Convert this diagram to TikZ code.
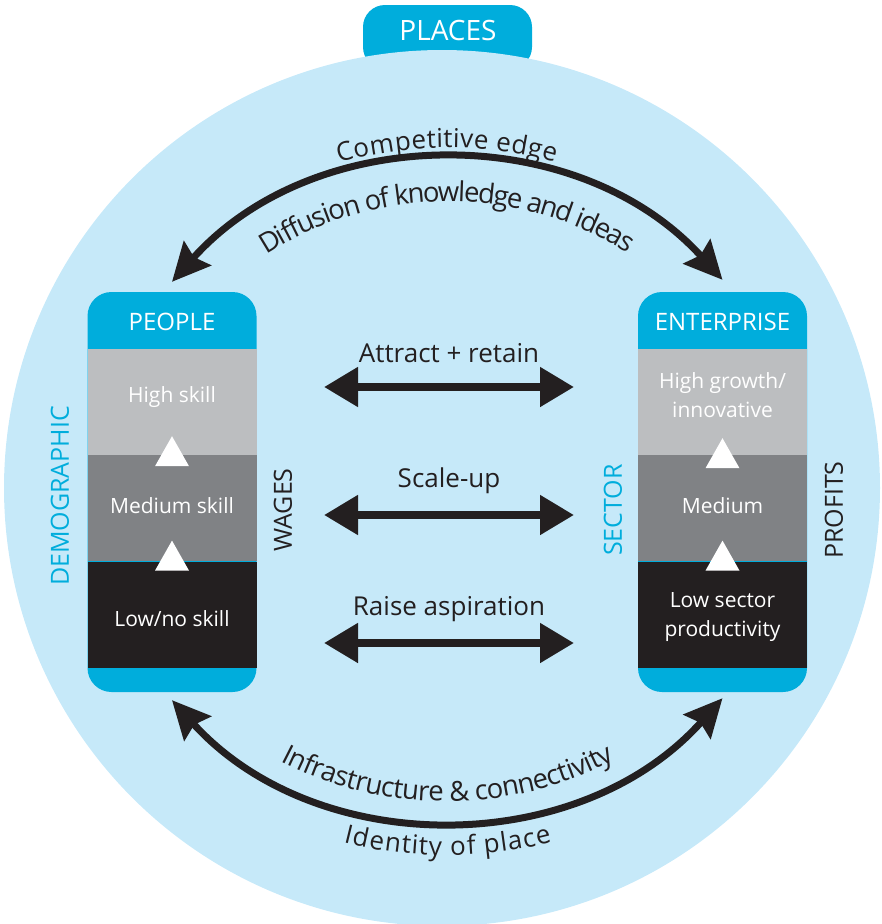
\documentclass[tikz,border=0pt]{standalone}
\usepackage{fontspec}
\setmainfont{Open Sans}
\definecolor{placecyan}{HTML}{00ADDC}
\definecolor{placebg}{HTML}{C6E9F9}
\definecolor{tierhigh}{HTML}{BCBEC0}
\definecolor{tiermid}{HTML}{808285}
\definecolor{tierlow}{HTML}{231F20}
\definecolor{inkdark}{HTML}{231F20}
\usetikzlibrary{arrows.meta, positioning, decorations.text, calc}
\newcommand{\arcfont}{\fontsize{26}{30}\selectfont\color{inkdark}}
\newcommand{\arcfontlg}{\fontsize{27.5}{30}\selectfont\color{inkdark}}

\begin{document}
\begin{tikzpicture}[
        x=1pt, y=-1pt,
        colbox/.style={fill=placecyan, rounded corners=24pt, minimum width=169pt,
                       minimum height=400pt, inner sep=0pt},
        tier/.style={minimum width=169pt, minimum height=106pt, inner sep=0pt},
        tiertxt/.style={text=white, font=\fontsize{21}{29}\selectfont, align=center},
        headtxt/.style={text=white, font=\fontsize{24}{28}\selectfont},
        sidetxt/.style={rotate=90, font=\fontsize{25}{28}\selectfont},
        lbl/.style={text=inkdark, font=\fontsize{26}{30}\selectfont},
        biarr/.style={{Triangle[length=34pt, width=38pt]}-{Triangle[length=34pt, width=38pt]},
                      line width=8pt, inkdark},
        arcarr/.style={{Stealth[length=38pt, width=36pt, inset=5pt]}-{Stealth[length=38pt, width=36pt, inset=5pt]},
                       line width=7pt, inkdark},
        riser/.style={fill=white}
      ]
        \useasboundingbox (0,0) rectangle (882,924);

        % places tab and disc
        \node[fill=placecyan, rounded corners=22pt, minimum width=169pt, minimum height=64pt,
              inner sep=0pt] (placesTab) at (447.5,37) {};
        \node[circle, fill=placebg, minimum size=876pt, inner sep=0pt] (placesDisc) at (442,488) {};
        \node[headtxt, font=\fontsize{28}{30}\selectfont] (placesLbl) at (448,30) {PLACES};

        % people column
        \node[colbox] (people) at (172,492) {};
        \node[tier, fill=tierhigh, below=57pt of people.north] (high) {};
        \node[tier, fill=tiermid, below=0pt of high] (mid) {};
        \node[tier, fill=tierlow, below=0pt of mid] (low) {};
        \node[headtxt] (peopleLbl) at ([yshift=-30pt]people.north) {PEOPLE};
        \node[tiertxt, anchor=base] (highLbl) at (high.center) {High skill};
        \node[tiertxt, anchor=base] (midLbl) at ([yshift=-5pt]mid.center) {Medium skill};
        \node[tiertxt, anchor=base] (lowLbl) at ([yshift=-12pt]low.center) {Low/no skill};
        \fill[riser] ([yshift=19pt]high.south) -- ++(-17pt,-30pt) -- ++(34pt,0pt) -- cycle;
        \fill[riser] ([yshift=21pt]mid.south) -- ++(-17pt,-30pt) -- ++(34pt,0pt) -- cycle;

        % enterprise column
        \node[colbox] (enterprise) at (722.5,492) {};
        \node[tier, fill=tierhigh, below=57pt of enterprise.north] (entHigh) {};
        \node[tier, fill=tiermid, below=0pt of entHigh] (entMid) {};
        \node[tier, fill=tierlow, below=0pt of entMid] (entLow) {};
        \node[headtxt] (entLbl) at ([yshift=-30pt]enterprise.north) {ENTERPRISE};
        \node[tiertxt] (entHighLbl) at ([yshift=7pt]entHigh.center) {High growth/\\innovative};
        \node[tiertxt, anchor=base] (entMidLbl) at ([yshift=-5pt]entMid.center) {Medium};
        \node[tiertxt] (entLowLbl) at ([yshift=-2pt]entLow.center) {Low sector\\productivity};
        \fill[riser] ([yshift=17pt]entHigh.south) -- ++(-17pt,-30pt) -- ++(34pt,0pt) -- cycle;
        \fill[riser] ([yshift=21pt]entMid.south) -- ++(-17pt,-30pt) -- ++(34pt,0pt) -- cycle;

        % side labels
        \node[sidetxt, text=placecyan] (demogLbl) at (60,496) {DEMOGRAPHIC};
        \node[sidetxt, text=inkdark] (wagesLbl) at (283,510) {WAGES};
        \node[sidetxt, text=placecyan] (sectorLbl) at (613,510) {SECTOR};
        \node[sidetxt, text=inkdark] (profitsLbl) at (834,510) {PROFITS};

        % straight links
        \coordinate (attractL) at (324,387);
        \coordinate (attractR) at (574,387);
        \coordinate (scaleL) at (324,515);
        \coordinate (scaleR) at (574,515);
        \coordinate (raiseL) at (324,643);
        \coordinate (raiseR) at (574,643);
        \draw[biarr] (attractL) -- node[lbl, anchor=base, yshift=25pt] {Attract + retain} (attractR);
        \draw[biarr] (scaleL) -- node[lbl, anchor=base, yshift=28pt] {Scale-up} (scaleR);
        \draw[biarr] (raiseL) -- node[lbl, anchor=base, yshift=28pt] {Raise aspiration} (raiseR);

        % curved links
        \coordinate (pN) at ([yshift=10pt]people.north);
        \coordinate (eN) at ([yshift=12pt]enterprise.north);
        \coordinate (pS) at ([yshift=-8pt]people.south);
        \coordinate (eS) at ([yshift=-6pt]enterprise.south);
        \draw[arcarr] (pN) to[bend left=48] (eN);
        \draw[arcarr] (pS) to[bend right=48] (eS);
        \path[decorate, decoration={text along path, text align=center, raise=13pt,
              text={|\arcfont|Competitive edge}}] (pN) to[bend left=48] (eN);
        \path[decorate, decoration={text along path, text align=center, raise=-41pt,
              text={|\arcfontlg|Diffusion of knowledge and ideas}}] (pN) to[bend left=48] (eN);
        \path[decorate, decoration={text along path, text align=center, raise=18pt,
              text={|\arcfontlg|Infrastructure {\&} connectivity}}] (pS) to[bend right=48] (eS);
        \path[decorate, decoration={text along path, text align=center, raise=-36pt,
              text={|\arcfont|Identity of place}}] (pS) to[bend right=48] (eS);
      \end{tikzpicture}
\end{document}
